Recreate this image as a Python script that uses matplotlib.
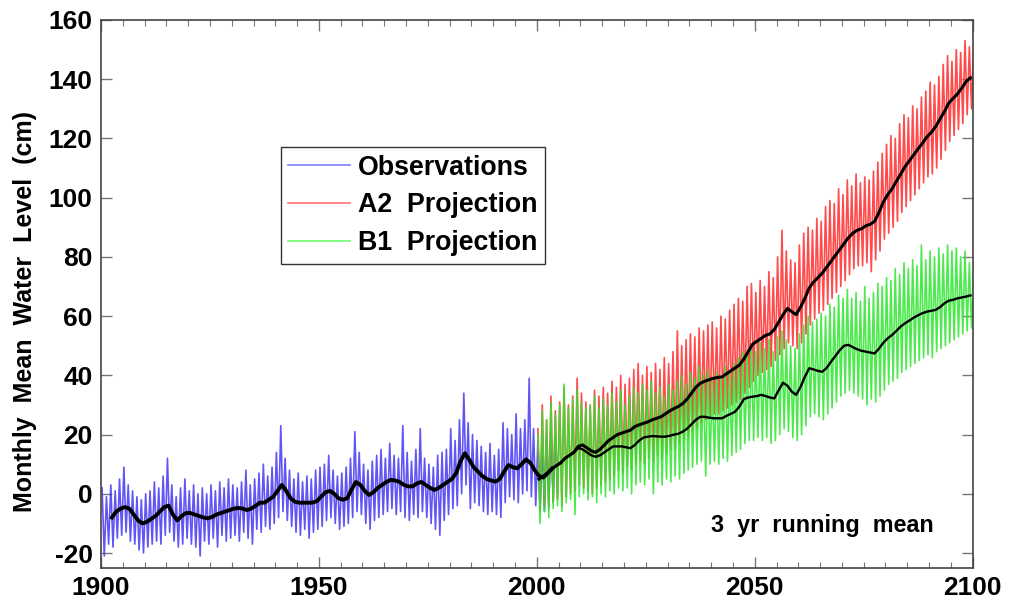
import matplotlib
matplotlib.use('Agg')
import matplotlib.pyplot as plt
from matplotlib.ticker import MultipleLocator
from matplotlib.lines import Line2D
import numpy as np

plt.rcParams['font.family'] = ['Liberation Sans', 'DejaVu Sans']
plt.rcParams['font.weight'] = 'bold'
plt.rcParams['axes.unicode_minus'] = False

# наблюдения: верх и низ месячного разброса по годам
obs_years = np.arange(1900, 2005)
obs_hi = [2, -1, 3, 1, 5, 9, 3, 1, -1, -2,
          0, 1, 4, 2, 6, 12, 3, -1, 2, 5,
          1, 3, 0, 2, 0, 3, 1, 4, 2, 5,
          3, 2, 4, 8, 3, 5, 7, 10, 6, 9,
          14, 23, 12, 8, 5, 7, 4, 6, 5, 8,
          9, 10, 13, 8, 6, 7, 9, 12, 21, 14,
          10, 8, 11, 13, 15, 12, 17, 13, 12, 23,
          14, 11, 15, 22, 12, 10, 9, 13, 14, 15,
          22, 18, 25, 34, 24, 20, 18, 16, 14, 17,
          13, 15, 24, 22, 20, 27, 22, 25, 39, 22,
          18, 17, 19, 21, 20]
obs_lo = [-21, -17, -18, -15, -14, -13, -16, -17, -19, -20,
          -18, -17, -16, -17, -14, -13, -16, -18, -17, -15,
          -17, -18, -21, -16, -17, -15, -18, -14, -16, -15,
          -14, -16, -13, -15, -17, -12, -13, -11, -12, -10,
          -8, -6, -9, -11, -13, -14, -12, -15, -13, -12,
          -11, -9, -8, -10, -12, -11, -10, -8, -6, -7,
          -10, -12, -9, -8, -7, -6, -5, -7, -6, -8,
          -9, -7, -8, -6, -8, -10, -12, -14, -9, -7,
          -5, -4, 0, 3, -5, -3, -4, -6, -7, -6,
          -7, -8, -3, -1, -2, -3, 0, 1, -1, -4,
          -5, -6, -3, -2, 0]

# 3-летнее скользящее среднее наблюдений
obs_mean_years = np.arange(1902, 2004)
obs_mean = [-8, -6, -5, -4.5, -5, -7, -9, -10,
            -9.5, -8.5, -7.5, -6, -4.5, -4, -7, -9, -7.5, -6.5,
            -6.5, -7, -7.5, -8, -8.3, -7.8, -7, -6.5, -6, -5.5,
            -5, -4.8, -5, -5.5, -5, -4, -3, -3, -2, -1,
            1, 3, 1, -1.5, -2.7, -3, -3, -3, -3, -2.5,
            -1, 0.5, 1, 0, -1.5, -2, -1.5, 1.5, 4, 3,
            1, -0.4, 0.5, 2, 3, 4, 4.7, 4.5, 4, 3,
            2.5, 2.5, 3.5, 4, 3, 2, 1.3, 2, 3, 4,
            5, 7, 11, 13.7, 11.5, 9, 7.5, 6, 5, 4.5,
            4.1, 5, 7.5, 9.7, 9, 8.6, 10, 11.6, 10.5, 8,
            6, 5.5, 7, 8.5]

# сценарии A2 и B1
proj_years = np.arange(2000, 2101)
a2_hi = [22, 30, 25, 33, 28, 31, 36, 30, 33, 39,
         34, 31, 30, 35, 33, 36, 34, 38, 36, 40,
         37, 39, 42, 44, 40, 43, 41, 44, 42, 46,
         44, 48, 55, 50, 52, 54, 53, 56, 55, 57,
         58, 56, 60, 59, 62, 64, 66, 65, 70, 71,
         68, 72, 70, 75, 73, 80, 89, 82, 79, 78,
         84, 88, 90, 89, 93, 92, 97, 99, 98, 103,
         101, 106, 104, 108, 105, 107, 106, 109, 112, 115,
         118, 121, 120, 125, 128, 127, 131, 130, 134, 136,
         139, 138, 141, 145, 148, 146, 150, 149, 153, 151,
         152]
a2_lo = [-6, -4, -5, -3, -2, -4, -1, 0, 1, 3,
         2, 1, 0, 2, 3, 4, 5, 6, 8, 7,
         9, 8, 10, 11, 10, 12, 11, 13, 12, 14,
         15, 15, 17, 18, 19, 21, 22, 24, 25, 26,
         27, 27, 28, 29, 30, 31, 32, 34, 36, 38,
         40, 41, 42, 43, 45, 47, 49, 51, 50, 49,
         51, 54, 57, 59, 61, 62, 64, 66, 68, 70,
         72, 74, 76, 77, 77, 78, 75, 79, 82, 86,
         88, 90, 92, 95, 97, 99, 101, 103, 105, 107,
         108, 110, 113, 116, 119, 121, 123, 125, 128, 130,
         131]
b1_hi = [20, 28, 25, 31, 27, 30, 37, 29, 32, 35,
         31, 29, 30, 33, 29, 32, 30, 34, 31, 35,
         30, 33, 36, 34, 37, 35, 38, 34, 36, 33,
         37, 35, 38, 40, 37, 41, 39, 43, 40, 42,
         38, 41, 39, 43, 41, 44, 46, 48, 47, 50,
         48, 51, 49, 52, 48, 53, 55, 52, 50, 49,
         54, 57, 60, 58, 59, 61, 60, 64, 63, 67,
         66, 69, 66, 68, 65, 70, 66, 68, 71, 70,
         73, 72, 76, 74, 78, 76, 79, 77, 84, 79,
         82, 80, 83, 81, 84, 82, 83, 80, 82, 78,
         75]
b1_lo = [-10, -6, -8, -5, -4, -6, -3, -2, -7, -1,
         0, -2, -1, -3, 0, -1, 1, 0, 2, 1,
         2, 0, 3, 4, 3, 5, 0, 4, 3, 5,
         4, 6, 5, 7, 8, 9, 10, 11, 6, 10,
         11, 10, 12, 11, 13, 14, 15, 17, 18, 18,
         19, 18, 19, 17, 18, 20, 22, 21, 19, 18,
         20, 23, 26, 27, 26, 25, 27, 29, 31, 33,
         34, 35, 34, 33, 32, 30, 32, 31, 33, 35,
         37, 38, 39, 41, 42, 43, 44, 45, 46, 47,
         46, 48, 49, 50, 51, 52, 53, 54, 55, 56,
         57]

mean_years = np.arange(2000, 2100)
a2_mean = [5, 6, 7, 8.5, 9.5, 10.5, 12, 13, 14, 16,
           16.5, 15.5, 14.5, 14, 15, 16.5, 18, 19, 20, 20.5,
           21, 21.5, 22.7, 23.3, 23.8, 24.3, 25, 25.5, 26, 27,
           28, 28.8, 29.5, 30.5, 32, 34, 36, 37.3, 38, 38.5,
           39, 39.3, 39.5, 40.5, 41.5, 42.5, 43.5, 45.5, 48, 50.5,
           51.5, 52.5, 53.5, 54, 55.5, 58, 60.5, 62.6, 61.5, 60.5,
           63, 66, 69.5, 71.5, 73, 74.5, 76.5, 78.5, 80.5, 82.5,
           84.5, 86.5, 88, 89, 89.5, 90.5, 91, 92, 95, 98.5,
           101, 103, 105.5, 108, 110.5, 112.5, 114.5, 116.5, 118.4, 120.5,
           122, 124, 126.5, 129, 131.9, 133.5, 135, 137, 139.2, 140.5]
b1_mean = [5, 6, 7, 8.5, 9.5, 10.5, 12, 13, 14, 15.5,
           15, 14, 13, 12.5, 13, 14, 15, 16, 16, 16,
           15.7, 15.4, 16.5, 18, 19, 19.3, 19.5, 19.4, 19.3, 19.3,
           19.6, 20, 20.3, 21, 22, 23.5, 25, 26, 26, 25.7,
           25.5, 25.5, 25.5, 26.3, 27, 27.7, 29.5, 32, 32.5, 32.8,
           33, 33.4, 33, 32.5, 32.2, 35, 37.5, 36.5, 34.5, 33.4,
           36, 39.5, 42.4, 42, 41.5, 41.2, 42.5, 44.6, 46.5, 48.5,
           50, 50.3, 49.5, 48.8, 48.3, 48, 47.7, 47.4, 49, 51,
           52.5, 53.6, 55, 56.5, 57.6, 58.5, 59.5, 60.3, 61, 61.5,
           61.8, 62.1, 63, 64.3, 65.2, 65.5, 66, 66.3, 66.6, 67]


def zigzag(years, hi, lo):
    # пик и провал внутри каждого года
    x = np.column_stack([years + 0.25, years + 0.75]).ravel()
    y = np.column_stack([hi, lo]).ravel()
    return x, y


fig = plt.figure(figsize=(10.1, 6.06), dpi=100)
ax = fig.add_axes([0.1, 0.063, 0.863, 0.904])

blue = '#3a2cf2'
red = '#ff2b2b'
green = '#2fe62f'

x, y = zigzag(obs_years, obs_hi, obs_lo)
ax.plot(x, y, color=blue, lw=1.2, alpha=0.8)
x, y = zigzag(proj_years, a2_hi, a2_lo)
ax.plot(x, y, color=red, lw=1.2, alpha=0.85)
x, y = zigzag(proj_years, b1_hi, b1_lo)
ax.plot(x, y, color=green, lw=1.2, alpha=0.85)

ax.plot(obs_mean_years + 0.5, obs_mean, color='black', lw=2.8)
ax.plot(mean_years + 0.5, a2_mean, color='black', lw=2.2)
ax.plot(mean_years + 0.5, b1_mean, color='black', lw=1.7)

ax.set_xlim(1900, 2100)
ax.set_ylim(-25, 160)
ax.xaxis.set_major_locator(MultipleLocator(50))
ax.xaxis.set_minor_locator(MultipleLocator(5))
ax.yaxis.set_major_locator(MultipleLocator(20))
ax.tick_params(which='both', direction='in', top=True, right=True,
               color='#777777', labelsize=19, pad=6)
ax.tick_params(which='major', length=8, width=1)
ax.tick_params(which='minor', length=4, width=0.8)
for s in ax.spines.values():
    s.set_color('#444444')
    s.set_linewidth(1.2)
for lab in ax.get_xticklabels() + ax.get_yticklabels():
    lab.set_fontweight('bold')

ax.set_ylabel('Monthly  Mean  Water  Level  (cm)', fontsize=18,
              fontweight='bold')
ax.yaxis.set_label_coords(-0.073, 0.467)

ax.text(0.955, 0.066, '3  yr  running  mean', transform=ax.transAxes,
        ha='right', va='baseline', fontsize=16.8, fontweight='bold')

handles = [Line2D([], [], color='#7f7fff', lw=1.2),
           Line2D([], [], color='#ff6f6f', lw=1.2),
           Line2D([], [], color='#6fff6f', lw=1.2)]
leg = ax.legend(handles, ['Observations', 'A2  Projection', 'B1  Projection'],
                loc='upper left', bbox_to_anchor=(0.206, 0.768),
                prop={'weight': 'bold', 'size': 19.3},
                handlelength=2.3, handletextpad=0.3, labelspacing=0.44,
                borderpad=0.28, fancybox=False, framealpha=1,
                edgecolor='#333333', borderaxespad=0)
leg.get_frame().set_linewidth(1.0)

fig.savefig('out.png', dpi=100)
